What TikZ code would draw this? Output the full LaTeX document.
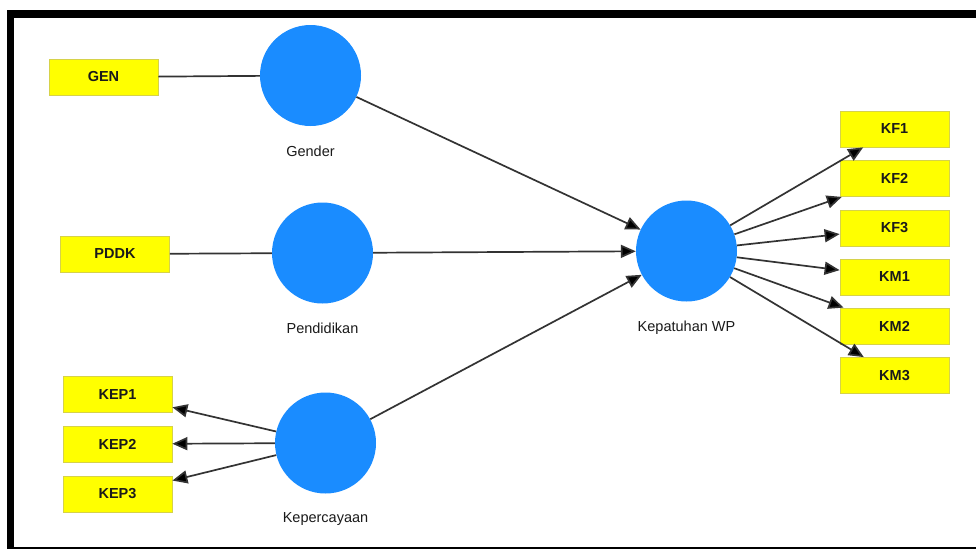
\documentclass[tikz,border=0pt]{standalone}
\usepackage{fontspec}
\setmainfont{Liberation Sans}
\usetikzlibrary{arrows.meta}
\definecolor{lvblue}{HTML}{1A8CFF}
\definecolor{indyel}{HTML}{FFFF00}
\definecolor{indedge}{HTML}{D6D24A}
\definecolor{linegray}{HTML}{333333}
\definecolor{txt}{HTML}{1A1A1A}
\begin{document}
\begin{tikzpicture}[x=1pt,y=-1pt,
  ind/.style={draw=indedge,line width=0.8pt,fill=indyel,minimum width=109pt,minimum height=36pt,inner sep=0pt,font=\fontsize{14.5}{16}\selectfont\bfseries,text=txt},
  lv/.style={circle,fill=lvblue,minimum size=101pt,inner sep=0pt},
  lvlab/.style={font=\fontsize{14.5}{17}\selectfont,text=txt},
  conn/.style={draw=linegray,line width=1.7pt},
  arr/.style={conn,-{Triangle[length=15pt,width=13pt,fill=black]}}]
\useasboundingbox (0,0) rectangle (976,549);
\fill[white] (0,0) rectangle (976,549);
% frame
\fill[black] (7,10) rectangle (976,18);
\fill[black] (7,10) rectangle (14,549);
\fill[black] (7,547) rectangle (976,549);
% latent variables
\node[lv] (gen) at (310.5,75.5) {};
\node[lv] (pend) at (322.5,253) {};
\node[lv] (kep) at (325.5,443) {};
\node[lv] (kwp) at (686.5,251) {};
\node[lvlab] (genl) at (310.5,151) {Gender};
\node[lvlab] (pendl) at (322.5,328) {Pendidikan};
\node[lvlab] (kepl) at (325.5,519) {Kepercayaan};
\node[lvlab] (kwpl) at (686.5,328) {Kepatuhan WP};
% indicators
\node[ind] (GEN) at (103.5,77) {GEN};
\node[ind] (PDDK) at (115,254) {PDDK};
\node[ind] (KEP1) at (117.5,394.5) {KEP1};
\node[ind] (KEP2) at (117.5,444) {KEP2};
\node[ind] (KEP3) at (117.5,494) {KEP3};
\node[ind] (KF1) at (894.5,129) {KF1};
\node[ind] (KF2) at (894.5,178.5) {KF2};
\node[ind] (KF3) at (894.5,228) {KF3};
\node[ind] (KM1) at (894.5,277) {KM1};
\node[ind] (KM2) at (894.5,326) {KM2};
\node[ind] (KM3) at (894.5,375.5) {KM3};
% connectors
\draw[conn] (GEN) -- (gen);
\draw[conn] (PDDK) -- (pend);
\draw[arr] (kep) -- (KEP1);
\draw[arr] (kep) -- (KEP2);
\draw[arr] (kep) -- (KEP3);
\draw[arr] (gen) -- (kwp);
\draw[arr] (pend) -- (kwp);
\draw[arr] (kep) -- (kwp);
\foreach \t in {KF1,KF2,KF3,KM1,KM2,KM3}{\draw[arr] (kwp) -- (\t);}
\end{tikzpicture}
\end{document}
